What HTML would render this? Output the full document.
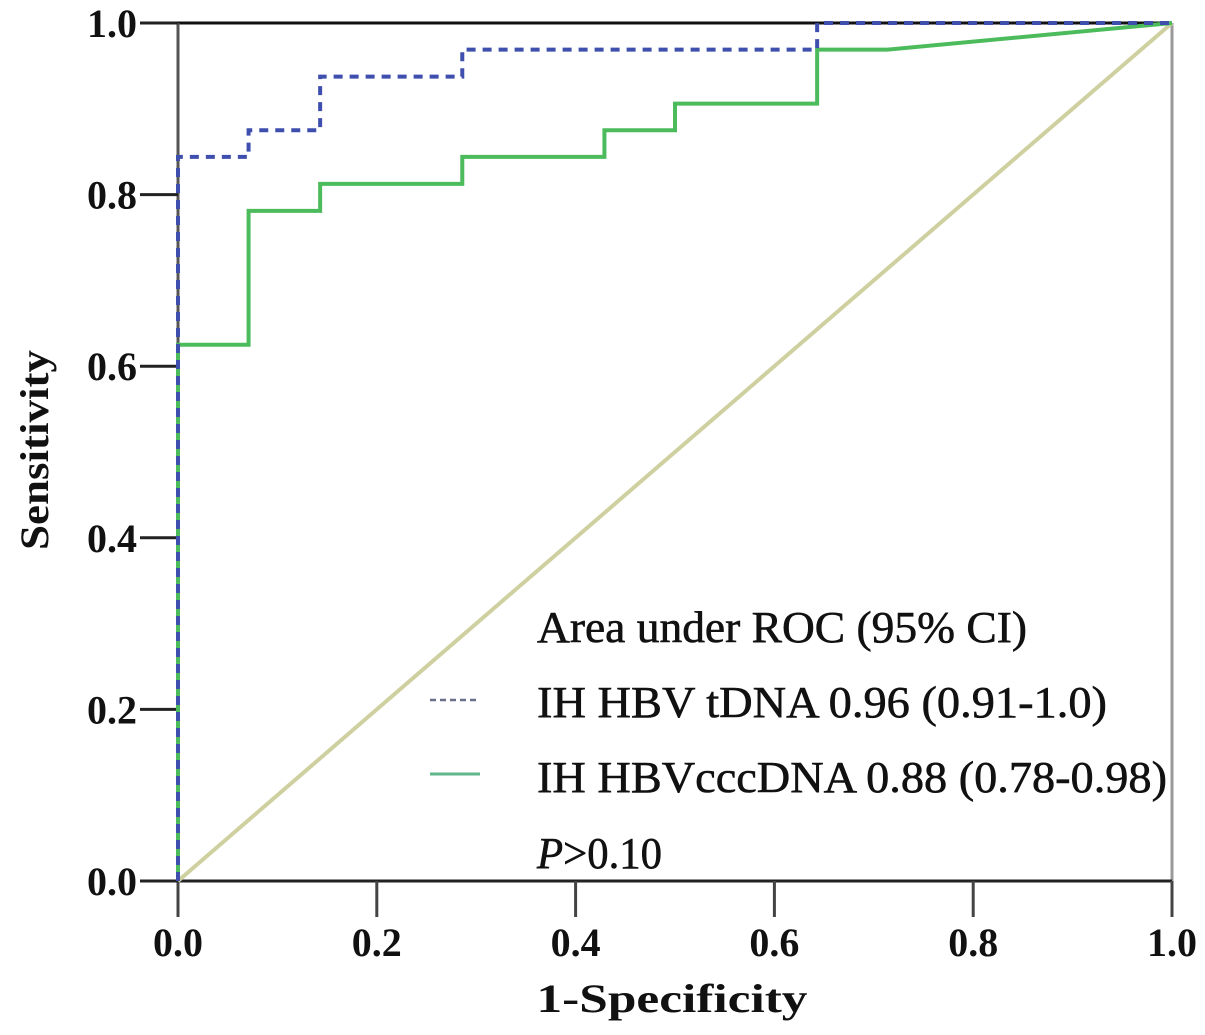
<!DOCTYPE html>
<html><head><meta charset="utf-8"><style>
html,body{margin:0;padding:0;background:#fff;}
svg{display:block;font-family:"Liberation Serif",serif;}
</style></head><body>
<svg id="chart" width="1205" height="1035" viewBox="0 0 1205 1035" xmlns="http://www.w3.org/2000/svg">
<g id="axes"></g>
<g id="series"></g>
<g id="legend" font-size="44" fill="#111" stroke="#111" stroke-width="0.6">
<text x="537" y="642" textLength="490" lengthAdjust="spacingAndGlyphs">Area under ROC (95% CI)</text>
<line x1="430" y1="700" x2="478" y2="700" stroke="#6a6f8a" stroke-width="2.5" stroke-dasharray="6,4"/>
<text x="537" y="717" textLength="570" lengthAdjust="spacingAndGlyphs">IH HBV tDNA 0.96 (0.91-1.0)</text>
<line x1="430" y1="774" x2="480" y2="774" stroke="#5fb78a" stroke-width="3"/>
<text x="537" y="792" textLength="630" lengthAdjust="spacingAndGlyphs">IH HBVcccDNA 0.88 (0.78-0.98)</text>
<text x="537" y="868" textLength="125" lengthAdjust="spacingAndGlyphs"><tspan font-style="italic">P</tspan>&gt;0.10</text>
</g>
</svg>
<script>
const xTicks = [0, 0.2, 0.4, 0.6, 0.8, 1.0];
const yTicks = [0, 0.2, 0.4, 0.6, 0.8, 1.0];
const tickLabels = ["0.0","0.2","0.4","0.6","0.8","1.0"];
const tdnaFpr = [0, 0, 0.071, 0.071, 0.143, 0.143, 0.286, 0.286, 0.643, 0.643, 1.0];
const tdnaTpr = [0, 0.844, 0.844, 0.875, 0.875, 0.9375, 0.9375, 0.969, 0.969, 1.0, 1.0];
const cccFpr = [0, 0, 0.071, 0.071, 0.143, 0.143, 0.286, 0.286, 0.429, 0.429, 0.5, 0.5, 0.643, 0.643, 0.714, 1.0];
const cccTpr = [0, 0.625, 0.625, 0.781, 0.781, 0.8125, 0.8125, 0.844, 0.844, 0.875, 0.875, 0.906, 0.906, 0.969, 0.969, 1.0];

const X0=178, X1=1172, Y0=881, Y1=23;
const sx = v => X0 + v*(X1-X0);
const sy = v => Y0 - v*(Y0-Y1);
const NS="http://www.w3.org/2000/svg";
function mk(parent, tag, attrs){const e=document.createElementNS(NS,tag);for(const k in attrs)e.setAttribute(k,attrs[k]);parent.appendChild(e);return e;}
const axes=document.getElementById('axes'), series=document.getElementById('series');

let e;
e=mk(axes,'line',{x1:X0,y1:Y1,x2:X1,y2:Y1,stroke:'#111','stroke-width':3});


e=mk(axes,'line',{x1:X1,y1:Y1,x2:X1,y2:Y0,stroke:'#999','stroke-width':3});


e=mk(axes,'line',{x1:X0,y1:Y1,x2:X0,y2:Y0,stroke:'#555','stroke-width':3});


e=mk(axes,'line',{x1:X0,y1:Y0,x2:X1,y2:Y0,stroke:'#222','stroke-width':3});



xTicks.forEach((v,i)=>{
  const t=mk(axes,'line',{x1:sx(v),y1:Y0,x2:sx(v),y2:917,stroke:'#444','stroke-width':3});
  
  
  const l=mk(axes,'text',{x:sx(v),y:956,'font-size':40,'font-weight':'bold','text-anchor':'middle',fill:'#111'});
  l.textContent=tickLabels[i];
  
  
});
yTicks.forEach((v,i)=>{
  const t=mk(axes,'line',{x1:140,y1:sy(v),x2:X0,y2:sy(v),stroke:'#222','stroke-width':3});
  
  
  const l=mk(axes,'text',{x:137,y:sy(v)+14,'font-size':40,'font-weight':'bold','text-anchor':'end',fill:'#111'});
  l.textContent=tickLabels[i];
  
  
});
e=mk(axes,'text',{x:672,y:1012,'font-size':40,'font-weight':'bold','text-anchor':'middle',fill:'#111',textLength:271,lengthAdjust:'spacingAndGlyphs'});
e.textContent='1-Specificity';


e=mk(axes,'text',{x:0,y:0,'font-size':40,'font-weight':'bold','text-anchor':'middle',fill:'#111',textLength:200,lengthAdjust:'spacingAndGlyphs',transform:'translate(48,450) rotate(-90)'});
e.textContent='Sensitivity';



e=mk(series,'line',{x1:sx(0),y1:sy(0),x2:sx(1),y2:sy(1),stroke:'#cfd0a0','stroke-width':4});



const pts=(xs,ys)=>xs.map((x,i)=>sx(x)+','+sy(ys[i])).join(' ');
e=mk(series,'polyline',{points:pts(cccFpr,cccTpr),fill:'none',stroke:'#4cbb5c','stroke-width':4});


e=mk(series,'polyline',{points:pts(tdnaFpr,tdnaTpr),fill:'none',stroke:'#3f4fae','stroke-width':4,'stroke-dasharray':'9,7'});


</script>
</body></html>
